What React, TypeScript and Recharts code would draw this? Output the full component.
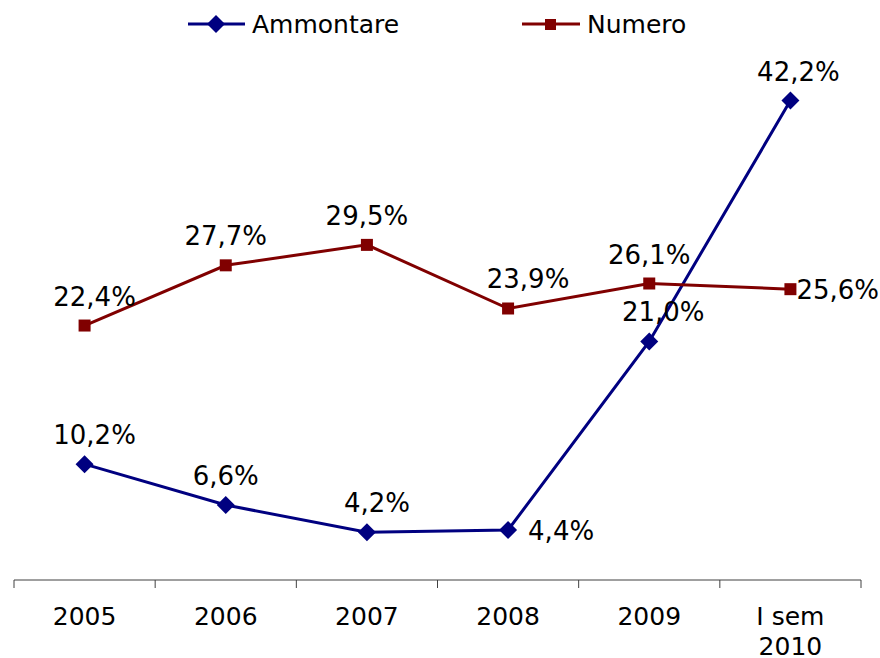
import { LineChart, Line, XAxis, YAxis, LabelList } from 'recharts'

const categories = ['2005', '2006', '2007', '2008', '2009', 'I sem 2010']
const ammontare = [10.2, 6.6, 4.2, 4.4, 21.0, 42.2]
const numero = [22.4, 27.7, 29.5, 23.9, 26.1, 25.6]

const data = categories.map((name, i) => ({ name, ammontare: ammontare[i], numero: numero[i] }))

// layout
const W = 880
const H = 658
const LEFT = 14
const RIGHT = 19
const TOP = 12
const XAXIS_H = 78
const AXIS_Y = H - XAXIS_H
const BAND = (W - LEFT - RIGHT) / categories.length
const FONT = 'DejaVu Sans, Verdana, sans-serif'
const BLUE = '#000080'
const RED = '#800000'

// label nudges (dx) and which points get their label on the right
const ammontareDx = [10, 0, 10, 20, 14, 8]
const numeroDx = [10, 0, 0, 20, 0, 6]
const ammontareRight = [3]
const numeroRight = [5]

const fmt = (v: number) => v.toFixed(1).replace('.', ',') + '%'

const makeLabel = (dxs: number[], right: number[]) => (props: any) => {
  const { x, y, value, index } = props
  if (right.includes(index)) {
    return (
      <text x={x + dxs[index]} y={y + 10} fontSize={26} fontFamily={FONT} fill="#000" textAnchor="start">
        {fmt(value)}
      </text>
    )
  }
  return (
    <text x={x + dxs[index]} y={y - 20} fontSize={26} fontFamily={FONT} fill="#000" textAnchor="middle">
      {fmt(value)}
    </text>
  )
}

const Diamond = (props: any) => {
  const { cx, cy } = props
  if (cx == null || cy == null) return <g />
  const r = 9
  return <path d={`M${cx},${cy - r}L${cx + r},${cy}L${cx},${cy + r}L${cx - r},${cy}Z`} fill={BLUE} />
}

const Square = (props: any) => {
  const { cx, cy } = props
  if (cx == null || cy == null) return <g />
  const s = 12
  return <rect x={cx - s / 2} y={cy - s / 2} width={s} height={s} fill={RED} />
}

const Tick = (props: any) => {
  const { x, payload, index } = props
  const label = String(payload.value)
  const sp = label.lastIndexOf(' ')
  const lines = label.length > 5 && sp > 0 ? [label.slice(0, sp), label.slice(sp + 1)] : [label]
  return (
    <g>
      <line x1={x - BAND / 2} x2={x - BAND / 2} y1={AXIS_Y} y2={AXIS_Y + 8} stroke="#404040" strokeWidth={1} />
      {index === categories.length - 1 && (
        <line x1={x + BAND / 2} x2={x + BAND / 2} y1={AXIS_Y} y2={AXIS_Y + 8} stroke="#404040" strokeWidth={1} />
      )}
      {lines.map((l, i) => (
        <text key={i} x={x} y={AXIS_Y + 45 + i * 30} textAnchor="middle" fontSize={25} fontFamily={FONT} fill="#000">
          {l}
        </text>
      ))}
    </g>
  )
}

const Legend = () => (
  <svg width={W} height={50} style={{ position: 'absolute', left: 0, top: 0 }}>
    <line x1={188} x2={245} y1={24} y2={24} stroke={BLUE} strokeWidth={3} />
    <path d="M216,15L225,24L216,33L207,24Z" fill={BLUE} />
    <text x={252} y={33} fontSize={25} fontFamily={FONT} fill="#000">Ammontare</text>
    <line x1={522} x2={580} y1={24} y2={24} stroke={RED} strokeWidth={3} />
    <rect x={545} y={19} width={11} height={11} fill={RED} />
    <text x={587} y={33} fontSize={25} fontFamily={FONT} fill="#000">Numero</text>
  </svg>
)

export default function App() {
  return (
    <div style={{ position: 'relative', width: W, height: H, background: '#fff' }}>
      <style>{'body{margin:0}'}</style>
      <LineChart width={W} height={H} data={data} margin={{ top: TOP, right: RIGHT, left: LEFT, bottom: 0 }}>
        <XAxis
          dataKey="name"
          height={XAXIS_H}
          padding={{ left: BAND / 2, right: BAND / 2 }}
          tick={<Tick />}
          tickLine={false}
          axisLine={{ stroke: '#404040', strokeWidth: 1 }}
          interval={0}
        />
        <YAxis hide domain={[0, 50]} />
        <Line
          type="linear"
          dataKey="ammontare"
          stroke={BLUE}
          strokeWidth={3}
          dot={<Diamond />}
          activeDot={false}
          isAnimationActive={false}
        >
          <LabelList dataKey="ammontare" content={makeLabel(ammontareDx, ammontareRight)} />
        </Line>
        <Line
          type="linear"
          dataKey="numero"
          stroke={RED}
          strokeWidth={3}
          dot={<Square />}
          activeDot={false}
          isAnimationActive={false}
        >
          <LabelList dataKey="numero" content={makeLabel(numeroDx, numeroRight)} />
        </Line>
      </LineChart>
      <Legend />
    </div>
  )
}
